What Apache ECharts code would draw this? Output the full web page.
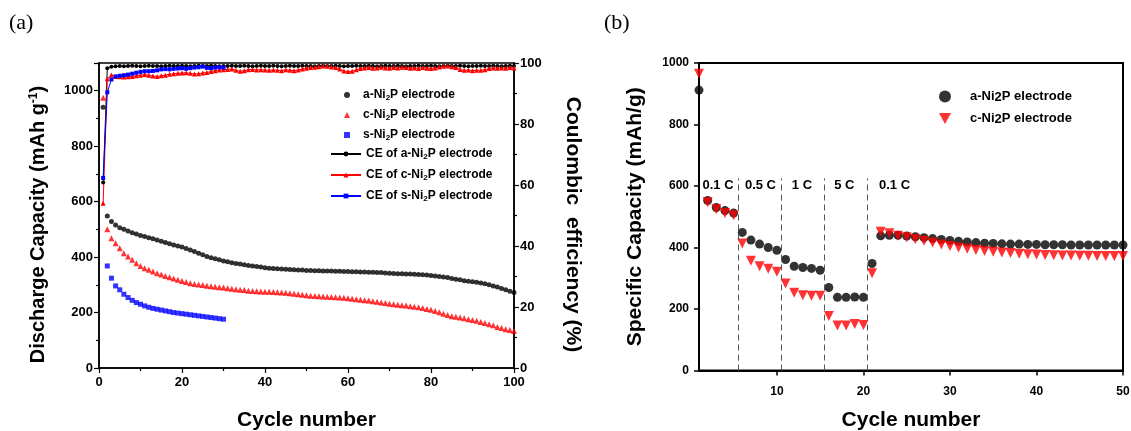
<!DOCTYPE html>
<html><head><meta charset="utf-8">
<script src="https://cdn.jsdelivr.net/npm/echarts@6/dist/echarts.min.js"></script>
<style>html,body{margin:0;padding:0;background:#fff}#c{width:1131px;height:431px}</style>
</head><body><div id="c"></div>
<script>
// ---------- Panel (a): cycling, cycles 1..100 ----------
const capA = [940,548,528,516,506,500,494,488,483,478,474,470,466,462,457,453,448,444,440,436,
  431,426,420,414,408,402,398,394,390,386,383,380,377,375,372,370,368,366,364,362,
  360,359,358,357,356,355,354,353,353,352,352,351,351,350,350,350,349,349,348,348,
  347,347,346,346,345,345,344,344,343,342,341,340,340,339,339,338,337,336,335,334,
  332,330,328,326,323,320,318,315,313,311,309,307,304,300,296,292,287,282,277,272];
const capC = [975,500,468,450,432,414,402,390,378,368,360,354,348,342,337,332,327,323,318,314,
  310,306,303,301,299,297,295,293,291,290,288,286,284,282,281,279,278,277,276,275,
  275,274,273,272,271,270,268,266,264,262,261,260,259,258,257,256,255,254,253,252,
  250,248,246,244,243,241,239,236,234,232,230,228,226,225,223,221,219,216,213,210,
  206,201,196,191,187,185,182,179,176,173,170,166,162,158,154,148,144,140,137,133];
const capS = [null,368,324,296,282,266,254,244,236,230,224,219,215,212,209,206,203,200,198,196,
  194,192,190,188,186,184,182,180,178,176];
const ceA = [60.8,98.3,98.8,98.9,99.0,98.9,99.0,99.1,99.0,98.9,99.0,99.1,99.0,99.0,98.9,99.0,99.1,99.0,99.0,99.1,
  99.0,98.9,99.0,99.1,99.0,99.0,99.1,99.0,98.9,99.0,99.0,99.1,99.0,99.0,99.1,99.0,98.9,99.0,99.1,99.0,
  99.0,99.1,99.0,98.9,99.0,99.1,99.0,99.0,99.1,99.0,99.0,98.9,99.0,99.1,99.0,99.0,99.1,99.0,98.9,99.0,
  99.0,99.1,99.0,99.0,99.1,99.0,98.9,99.0,99.1,99.0,99.0,99.1,99.0,98.9,99.0,99.0,99.1,99.0,99.0,99.1,
  99.0,98.9,99.0,99.1,99.0,99.0,99.1,99.0,98.9,99.0,99.0,99.1,99.0,99.0,99.1,99.0,98.9,99.0,99.1,99.0];
const ceC = [54.0,94.8,96.1,95.6,95.5,95.4,95.5,95.6,95.8,96.0,96.2,96.0,95.7,95.6,95.8,96.0,96.3,96.5,96.6,96.7,
  96.8,96.6,96.4,96.5,96.7,96.9,97.2,97.5,97.7,97.8,97.9,98.0,97.6,97.3,97.5,97.8,97.9,97.7,97.8,97.7,
  97.6,97.7,97.6,97.5,97.8,97.6,97.5,97.7,98.0,98.3,98.5,98.6,98.8,99.0,98.9,98.7,98.5,98.0,97.4,97.2,
  97.3,97.8,98.2,98.4,98.5,98.3,98.4,98.6,98.4,98.3,98.5,98.4,98.6,98.5,98.3,98.4,98.2,98.5,98.3,98.2,
  98.4,98.7,98.9,99.0,98.8,98.5,97.9,97.6,97.7,97.5,97.6,97.6,97.8,98.2,98.4,98.3,98.4,98.3,98.5,98.4];
const ceS = [62.3,90.4,94.6,95.6,95.8,96.0,96.2,96.5,96.8,97.1,97.3,97.3,97.4,97.6,97.9,98.0,97.9,98.1,98.2,98.3,
  98.1,98.3,98.5,98.6,98.8,98.4,98.3,98.5,98.6,98.5];

// ---------- Panel (b): rate capability, cycles 1..50 ----------
const rateA = [912,553,530,520,512,449,424,411,400,391,361,339,335,332,326,270,238,238,239,238,
  348,438,440,440,437,435,432,429,426,423,420,418,416,414,413,412,411,411,410,410,
  409,409,409,408,408,408,408,408,408,408];
const rateC = [965,547,524,512,505,413,357,339,331,321,283,253,245,243,243,177,146,146,151,148,
  316,451,446,438,433,428,422,416,410,405,400,396,392,389,386,384,382,380,378,377,
  376,375,374,374,373,373,372,372,372,372];
const rateDividers = [5.5, 10.5, 15.5, 20.5];
const rateLabels = ['0.1 C', '0.5 C', '1 C', '5 C', '0.1 C'];
const rateLabelX = [3.2, 8.1, 12.9, 17.8, 23.6];
const rateLabelY = 603;
const dividerTop = 625;

const xTicksA = [0, 20, 40, 60, 80, 100];
const xTicksB = [10, 20, 30, 40, 50];

const FONT = '"Liberation Sans", Arial, sans-serif';
const pairs = arr => arr.map((v, i) => [i + 1, v]);
const legFmt = n => n.replace('Ni2P', 'Ni{sub|2}P');
const plainNum = v => String(v);
const DOWN_TRI = 'path://M0,0L10,0L5,9Z';

const axisLineStyle = {lineStyle: {color: '#000', width: 1.5}};
const lblStyle = {color: '#000', fontFamily: FONT, fontWeight: 'bold', fontSize: 13, formatter: plainNum};
const legTextA = {color: '#000', fontFamily: FONT, fontSize: 12, fontWeight: 'bold', lineHeight: 14,
  rich: {sub: {fontSize: 8, fontFamily: FONT, fontWeight: 'bold', verticalAlign: 'bottom', lineHeight: 8, padding: [6, 0, 0, 0]}}};

const chart = echarts.init(document.getElementById('c'), null, {renderer: 'canvas'});
chart.setOption({
  backgroundColor: '#fff',
  animation: false,
  graphic: [
    {type: 'text', left: 9, top: 12, style: {text: '(a)', font: '22px "Liberation Serif", serif', fill: '#000'}},
    {type: 'text', left: 604, top: 12, style: {text: '(b)', font: '22px "Liberation Serif", serif', fill: '#000'}}
  ],
  grid: [
    {left: 99, top: 63, width: 415, height: 305, outerBoundsMode: 'none', containLabel: false,
      show: true, borderColor: '#000', borderWidth: 1.5, backgroundColor: 'transparent'},
    {left: 699, top: 63, width: 424, height: 307.5, outerBoundsMode: 'none', containLabel: false,
      show: true, borderColor: '#000', borderWidth: 2, backgroundColor: 'transparent'}
  ],
  legend: [
    {
      orient: 'vertical', left: 339, top: 83, itemWidth: 6, itemHeight: 6, itemGap: 6,
      data: [
        {name: 'a-Ni2P electrode', icon: 'circle'},
        {name: 'c-Ni2P electrode', icon: 'triangle'},
        {name: 's-Ni2P electrode', icon: 'rect'}
      ],
      formatter: legFmt,
      textStyle: Object.assign({}, legTextA, {padding: [0, 0, 0, 8]})
    },
    {
      orient: 'vertical', left: 325, top: 142, itemWidth: 30, itemHeight: 6, itemGap: 7,
      data: ['CE of a-Ni2P electrode', 'CE of c-Ni2P electrode', 'CE of s-Ni2P electrode'],
      formatter: legFmt,
      textStyle: legTextA
    },
    {
      orient: 'vertical', left: 934, top: 81, itemWidth: 12, itemHeight: 12, itemGap: 4,
      data: [
        {name: 'a-Ni2P electrode ', icon: 'circle'},
        {name: 'c-Ni2P electrode ', icon: DOWN_TRI}
      ],
      formatter: legFmt,
      textStyle: {color: '#000', fontFamily: FONT, fontSize: 13, fontWeight: 'bold', lineHeight: 15, padding: [0, 0, 0, 14],
        rich: {sub: {fontSize: 13, fontFamily: FONT, fontWeight: 'bold', verticalAlign: 'bottom', lineHeight: 13, padding: [5, 0, 0, 0]}}}
    }
  ],
  xAxis: [
    {
      gridIndex: 0, type: 'value', min: 0, max: 100, interval: 20,
      name: 'Cycle number', nameLocation: 'middle', nameGap: 42,
      nameTextStyle: {color: '#000', fontFamily: FONT, fontWeight: 'bold', fontSize: 21},
      axisLine: axisLineStyle, axisTick: {inside: false, length: 5, lineStyle: {color: '#000', width: 1.2}},
      minorTick: {show: true, splitNumber: 2, length: 3, lineStyle: {color: '#000', width: 1.2}},
      axisLabel: Object.assign({margin: 8, customValues: xTicksA}, lblStyle),
      splitLine: {show: false}
    },
    {
      gridIndex: 1, type: 'value', min: 1, max: 50,
      name: 'Cycle number', nameLocation: 'middle', nameGap: 39,
      nameTextStyle: {color: '#000', fontFamily: FONT, fontWeight: 'bold', fontSize: 21},
      axisLine: {lineStyle: {color: '#000', width: 2}},
      axisTick: {inside: false, length: 5, customValues: xTicksB, lineStyle: {color: '#000', width: 1.5}},
      axisLabel: Object.assign({margin: 15, customValues: xTicksB}, lblStyle, {fontSize: 12}),
      splitLine: {show: false}
    }
  ],
  yAxis: [
    {
      gridIndex: 0, type: 'value', min: 0, max: 1100, interval: 200,
      name: 'Discharge Capacity (mAh g{sup|-1})', nameLocation: 'middle', nameGap: 51,
      nameTextStyle: {color: '#000', fontFamily: FONT, fontWeight: 'bold', fontSize: 20, padding: [0, 18, 0, 0],
        rich: {sup: {fontSize: 12, fontFamily: FONT, fontWeight: 'bold', verticalAlign: 'top', lineHeight: 12, padding: [0, 0, 9, 0]}}},
      axisLine: {show: true, lineStyle: {color: '#000', width: 1.5}},
      axisTick: {show: true, inside: false, length: 5, lineStyle: {color: '#000', width: 1.2}},
      minorTick: {show: true, splitNumber: 2, length: 3, lineStyle: {color: '#000', width: 1.2}},
      axisLabel: Object.assign({margin: 6, showMaxLabel: false}, lblStyle),
      splitLine: {show: false}
    },
    {
      gridIndex: 0, type: 'value', position: 'right', min: 0, max: 100, interval: 20,
      name: 'Coulombic  efficiency (%)', nameLocation: 'middle', nameGap: 48, nameRotate: -90,
      nameTextStyle: {color: '#000', fontFamily: FONT, fontWeight: 'bold', fontSize: 21, padding: [0, 0, 0, 18]},
      axisLine: {show: true, lineStyle: {color: '#000', width: 1.5}},
      axisTick: {show: true, inside: false, length: 5, lineStyle: {color: '#000', width: 1.2}},
      minorTick: {show: true, splitNumber: 2, length: 3, lineStyle: {color: '#000', width: 1.2}},
      axisLabel: Object.assign({margin: 6}, lblStyle),
      splitLine: {show: false}
    },
    {
      gridIndex: 1, type: 'value', min: 0, max: 1000, interval: 200,
      name: 'Specific Capacity (mAh/g)', nameLocation: 'middle', nameGap: 53,
      nameTextStyle: {color: '#000', fontFamily: FONT, fontWeight: 'bold', fontSize: 21},
      axisLine: {show: true, lineStyle: {color: '#000', width: 2}},
      axisTick: {show: true, inside: false, length: 5, lineStyle: {color: '#000', width: 1.5}},
      axisLabel: Object.assign({margin: 10}, lblStyle, {fontSize: 12}),
      splitLine: {show: false}
    }
  ],
  series: [
    {name: 'a-Ni2P electrode', type: 'scatter', xAxisIndex: 0, yAxisIndex: 0, symbol: 'circle', symbolSize: 5,
      itemStyle: {color: '#000'}, data: pairs(capA)},
    {name: 'c-Ni2P electrode', type: 'scatter', xAxisIndex: 0, yAxisIndex: 0, symbol: 'triangle', symbolSize: 6,
      itemStyle: {color: '#ff0000'}, data: pairs(capC)},
    {name: 's-Ni2P electrode', type: 'scatter', xAxisIndex: 0, yAxisIndex: 0, symbol: 'rect', symbolSize: 5,
      itemStyle: {color: '#0000ff'}, data: pairs(capS)},
    {name: 'CE of a-Ni2P electrode', type: 'line', xAxisIndex: 0, yAxisIndex: 1, symbol: 'circle', symbolSize: 4,
      lineStyle: {color: '#000', width: 1}, itemStyle: {color: '#000'}, data: pairs(ceA)},
    {name: 'CE of c-Ni2P electrode', type: 'line', xAxisIndex: 0, yAxisIndex: 1, symbol: 'triangle', symbolSize: 5,
      lineStyle: {color: '#ff0000', width: 1}, itemStyle: {color: '#ff0000'}, data: pairs(ceC)},
    {name: 'CE of s-Ni2P electrode', type: 'line', xAxisIndex: 0, yAxisIndex: 1, symbol: 'rect', symbolSize: 4,
      lineStyle: {color: '#0000ff', width: 1}, itemStyle: {color: '#0000ff'}, data: pairs(ceS)},
    {name: 'a-Ni2P electrode ', type: 'scatter', xAxisIndex: 1, yAxisIndex: 2, symbol: 'circle', symbolSize: 9,
      itemStyle: {color: '#000'}, data: pairs(rateA),
      markLine: {silent: true, symbol: 'none', label: {show: false},
        lineStyle: {color: '#555', type: [6, 4], width: 1},
        data: rateDividers.map(x => [{coord: [x, 0]}, {coord: [x, dividerTop]}])},
      markPoint: {silent: true, symbol: 'circle', symbolSize: 0,
        label: {show: true, position: 'inside', formatter: p => p.name, color: '#000', fontFamily: FONT, fontWeight: 'bold', fontSize: 13},
        data: rateLabels.map((t, i) => ({name: t, coord: [rateLabelX[i], rateLabelY]}))}
    },
    {name: 'c-Ni2P electrode ', type: 'scatter', xAxisIndex: 1, yAxisIndex: 2, symbol: DOWN_TRI, symbolSize: 10,
      itemStyle: {color: '#ff0000'}, data: pairs(rateC)}
  ]
});
</script>
</body></html>
